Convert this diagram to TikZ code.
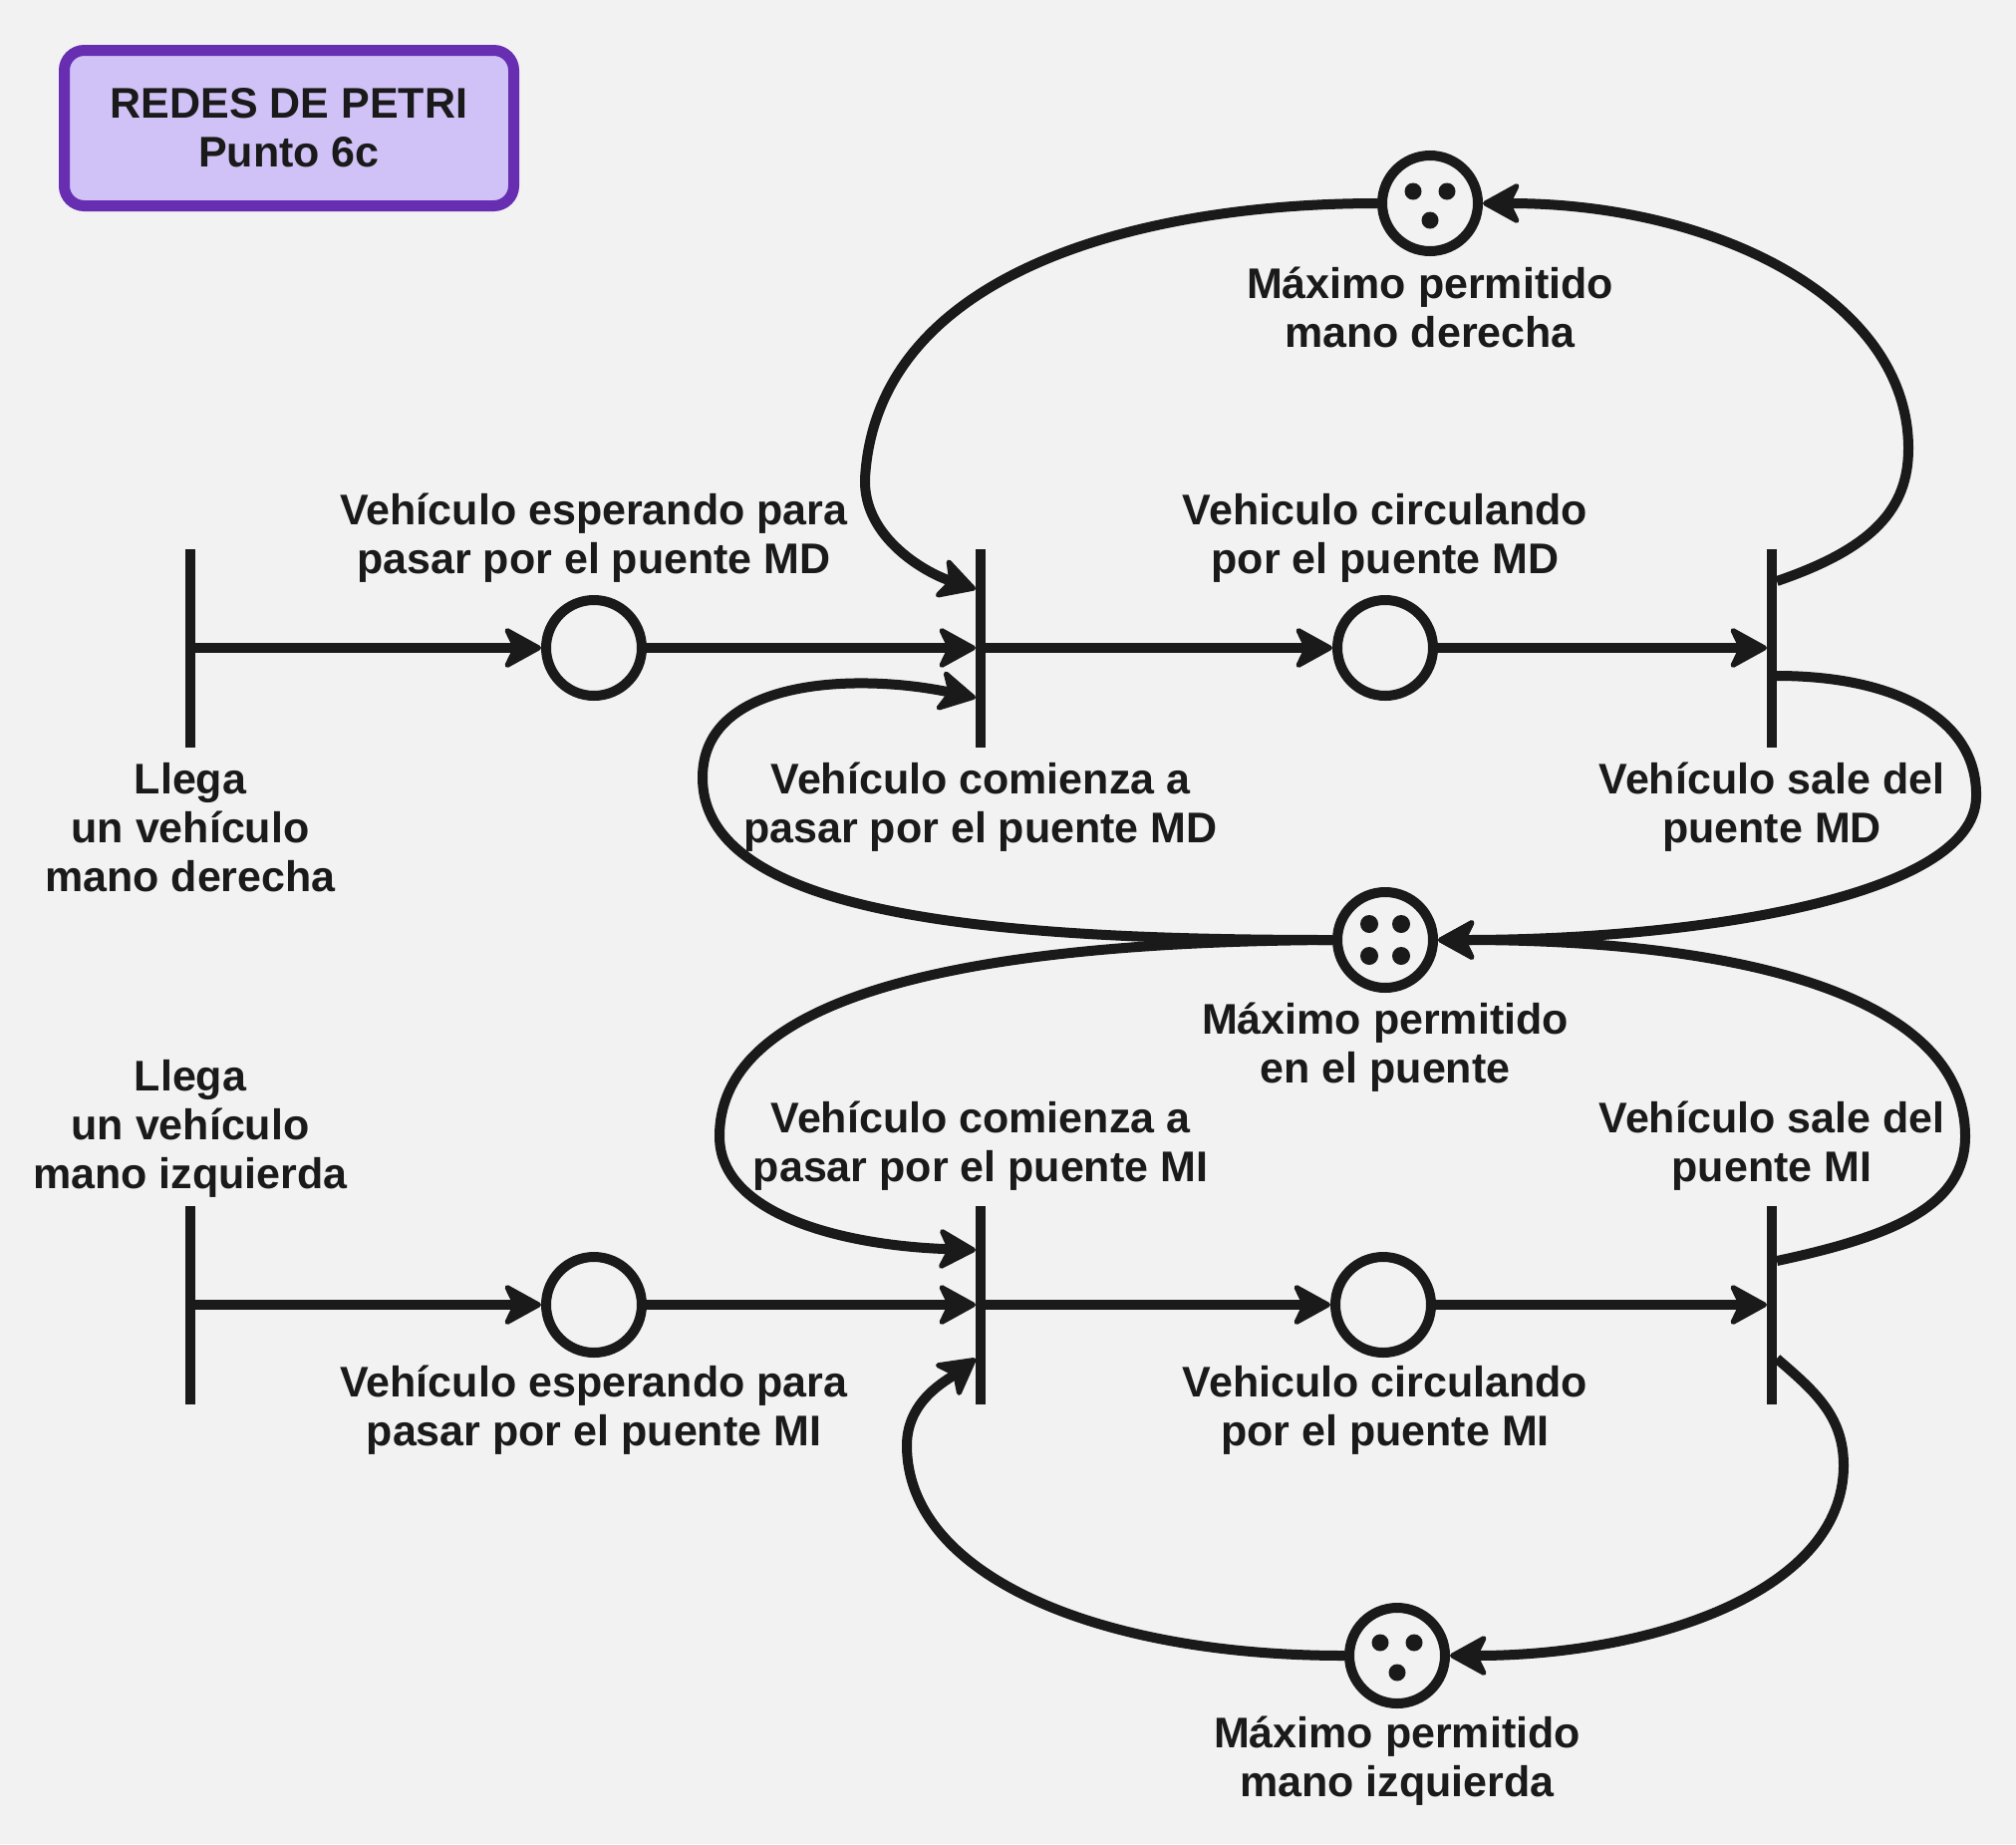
\documentclass[tikz,border=0pt]{standalone}
\usepackage{fontspec}
\setmainfont{Liberation Sans}
\usetikzlibrary{arrows.meta}
\definecolor{ink}{RGB}{26,26,26}
\definecolor{bg}{RGB}{242,242,242}
\definecolor{tborder}{RGB}{104,46,178}
\definecolor{tfill}{RGB}{208,193,246}
\begin{document}
\begin{tikzpicture}[x=1pt,y=-1pt,
  every node/.style={font=\fontsize{43}{49}\selectfont\bfseries, text=ink},
  place/.style={circle, draw=ink, line width=10pt, minimum size=96pt, inner sep=0pt},
  trans/.style={rectangle, fill=ink, minimum width=10pt, minimum height=199pt, inner sep=0pt, outer sep=0pt},
  lbl/.style={align=center, inner sep=0pt},
  arc/.style={draw=ink, line width=10pt, -{Stealth[length=42pt,width=46pt,inset=11pt,round,line width=5pt]}},
  token/.style={fill=ink}
]
\fill[bg] (0,0) rectangle (2023,1850);
\useasboundingbox (0,0) rectangle (2023,1850);

% title
\node[draw=tborder, fill=tfill, line width=11pt, rounded corners=20pt,
      minimum width=451pt, minimum height=156pt, align=center, inner sep=0pt]
      (title) at (290,128.5) {REDES DE PETRI\\Punto 6c};

% transitions
\node[trans] (T1) at (191,650) {};
\node[trans] (T2) at (984,650) {};
\node[trans] (T3) at (1778,650) {};
\node[trans] (T4) at (191,1309) {};
\node[trans] (T5) at (984,1309) {};
\node[trans] (T6) at (1778,1309) {};

% places
\node[place] (P1) at (596,650) {};
\node[place] (P2) at (1390,650) {};
\node[place] (P3) at (1435,204) {};
\node[place] (P4) at (1390,943) {};
\node[place] (P5) at (596,1309) {};
\node[place] (P6) at (1388,1309) {};
\node[place] (P7) at (1402,1661) {};

% tokens
\fill[token] (P3.center) ++(-17,-12) circle[radius=8.5pt];
\fill[token] (P3.center) ++(17,-12) circle[radius=8.5pt];
\fill[token] (P3.center) ++(0,17) circle[radius=8.5pt];
\fill[token] (P4.center) ++(-16,-16) circle[radius=9pt];
\fill[token] (P4.center) ++(16,-16) circle[radius=9pt];
\fill[token] (P4.center) ++(-16,16) circle[radius=9pt];
\fill[token] (P4.center) ++(16,16) circle[radius=9pt];
\fill[token] (P7.center) ++(-17,-13) circle[radius=8.5pt];
\fill[token] (P7.center) ++(17,-13) circle[radius=8.5pt];
\fill[token] (P7.center) ++(0,17) circle[radius=8.5pt];

% labels
\node[lbl] (L1) at (191,830) {Llega\\un vehículo\\mano derecha};
\node[lbl] (L2) at (596,540) {Vehículo esperando para\\pasar por el puente MD};
\node[lbl] (L3) at (984,810) {Vehículo comienza a\\pasar por el puente MD};
\node[lbl] (L4) at (1390,540) {Vehiculo circulando\\por el puente MD};
\node[lbl] (L5) at (1778,810) {Vehículo sale del\\puente MD};
\node[lbl] (L6) at (1435,308) {Máximo permitido\\mano derecha};
\node[lbl] (L7) at (1390,1051) {Máximo permitido\\en el puente};
\node[lbl] (L8) at (191,1132) {Llega\\un vehículo\\mano izquierda};
\node[lbl] (L9) at (984,1150) {Vehículo comienza a\\pasar por el puente MI};
\node[lbl] (L10) at (1778,1150) {Vehículo sale del\\puente MI};
\node[lbl] (L11) at (596,1415) {Vehículo esperando para\\pasar por el puente MI};
\node[lbl] (L12) at (1390,1415) {Vehiculo circulando\\por el puente MI};
\node[lbl] (L13) at (1402,1767) {Máximo permitido\\mano izquierda};

% straight arcs
\draw[arc] (T1) -- (P1);
\draw[arc] (P1) -- (T2);
\draw[arc] (T2) -- (P2);
\draw[arc] (P2) -- (T3);
\draw[arc] (T4) -- (P5);
\draw[arc] (P5) -- (T5);
\draw[arc] (T5) -- (P6);
\draw[arc] (P6) -- (T6);

% curved arcs
\draw[arc] (P3.west) .. controls (1150,204) and (880,270) .. (868,480)
  .. controls (866,540) and (930,575) .. ([yshift=59pt]T2.west);
\draw[arc] ([yshift=67pt]T3.east) .. controls (1880,550) and (1915,510) .. (1915,450)
  .. controls (1915,300) and (1720,204) .. (P3.east);
\draw[arc] (P4.west) .. controls (1000,943) and (705,920) .. (705,780)
  .. controls (705,680) and (860,675) .. ([yshift=-50pt]T2.west);
\draw[arc] ([yshift=-28pt]T3.east) .. controls (1900,678) and (1985,720) .. (1983,800)
  .. controls (1981,900) and (1700,943) .. (P4.east);
\draw[arc] (P4.west) .. controls (1000,945) and (722,990) .. (722,1140)
  .. controls (722,1220) and (850,1250) .. ([yshift=55pt]T5.west);
\draw[arc] ([yshift=44pt]T6.east) .. controls (1900,1240) and (1972,1210) .. (1972,1140)
  .. controls (1972,1000) and (1750,943) .. (P4.east);
\draw[arc] (P7.west) .. controls (1100,1661) and (910,1580) .. (910,1450)
  .. controls (910,1405) and (950,1385) .. ([yshift=-54pt]T5.west);
\draw[arc] ([yshift=-54pt]T6.east) .. controls (1820,1395) and (1850,1420) .. (1850,1470)
  .. controls (1850,1600) and (1650,1661) .. (P7.east);
\end{tikzpicture}
\end{document}
